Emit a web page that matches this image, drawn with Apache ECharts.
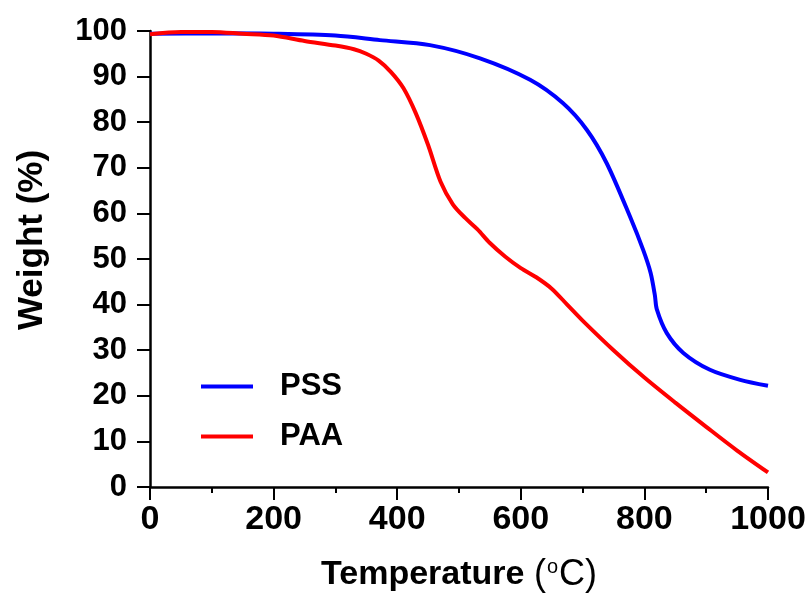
<!DOCTYPE html>
<html><head><meta charset="utf-8">
<script src="https://cdn.jsdelivr.net/npm/echarts@6/dist/echarts.min.js"></script>
<style>html,body{margin:0;padding:0;background:#fff}#c{width:809px;height:593px}</style>
</head><body><div id="c"></div>
<script>
const pssT = [0,100,200,300,372,453,534,615,668,707,739,777,798,810,817,820,836,863,906,955,1000];
const pssW = [99.4,99.5,99.4,99.0,98.0,96.9,94.0,89.3,84.2,78.3,71.0,59.2,52.0,47.0,42.0,39.0,33.8,29.4,25.7,23.5,22.2];
const paaT = [0,50,100,150,200,250,300,330,350,370,390,410,430,450,470,490,510,530,550,575,600,625,650,675,700,750,800,850,900,950,1000];
const paaW = [99.3,99.8,99.8,99.4,99.0,97.8,96.8,96.0,95.0,93.5,91.0,87.5,82.0,75.0,67.0,62.0,59.0,56.5,53.5,50.5,48.0,46.0,43.5,40.0,36.5,30.0,24.0,18.5,13.2,8.0,3.2];
const seriesNames = ['PSS','PAA'];
const xTitle = 'Temperature';
const yTitle = 'Weight (%)';

const font = '"Liberation Sans", Arial, sans-serif';
const chart = echarts.init(document.getElementById('c'));
const zip = (a,b)=>a.map((v,i)=>[v,b[i]]);
chart.setOption({
  animation:false,
  grid:{left:150,right:41,top:31,bottom:106,containLabel:false,outerBoundsMode:'none'},
  legend:{
    left:196, top:366, orient:'vertical', itemGap:19, itemWidth:52, itemHeight:4,
    icon:'rect',
    textStyle:{fontFamily:font,fontWeight:'bold',fontSize:31,color:'#000',padding:[0,0,0,22]},
    data:seriesNames
  },
  xAxis:{
    type:'value', min:0, max:1000, interval:200,
    name:'{b|'+xTitle+' }{r|(}{s|o}{r|C)}', nameLocation:'middle', nameGap:70,
    nameTextStyle:{rich:{
      b:{fontFamily:font,fontWeight:'bold',fontSize:34,color:'#000'},
      r:{fontFamily:font,fontSize:36,color:'#000'},
      s:{fontFamily:font,fontSize:20,color:'#000',verticalAlign:'top',padding:[0,1,16,1]}
    }},
    axisLine:{lineStyle:{color:'#000',width:2.5}},
    axisTick:{show:true,length:13,lineStyle:{color:'#000',width:2}},
    minorTick:{show:true,splitNumber:2,length:6,lineStyle:{color:'#000',width:2}},
    splitLine:{show:false},
    axisLabel:{fontFamily:font,fontWeight:'bold',fontSize:34,color:'#000',margin:16,
      formatter:v=>String(v)}
  },
  yAxis:{
    type:'value', min:0, max:100, interval:10,
    name:yTitle, nameLocation:'middle', nameGap:100, nameRotate:90,
    nameTextStyle:{fontFamily:font,fontWeight:'bold',fontSize:35,color:'#000',padding:[0,0,0,38]},
    axisLine:{show:true,lineStyle:{color:'#000',width:2.5}},
    axisTick:{show:true,length:13,lineStyle:{color:'#000',width:2}},
    splitLine:{show:false},
    axisLabel:{fontFamily:font,fontWeight:'bold',fontSize:31,color:'#000',margin:23,
      formatter:v=>String(v)}
  },
  series:[
    {name:seriesNames[0],type:'line',data:zip(pssT,pssW),smooth:0.3,showSymbol:false,symbol:'none',
      lineStyle:{color:'#0000ff',width:4},itemStyle:{color:'#0000ff'}},
    {name:seriesNames[1],type:'line',data:zip(paaT,paaW),smooth:0.3,showSymbol:false,symbol:'none',
      lineStyle:{color:'#ff0000',width:4},itemStyle:{color:'#ff0000'}}
  ]
});
</script></body></html>
